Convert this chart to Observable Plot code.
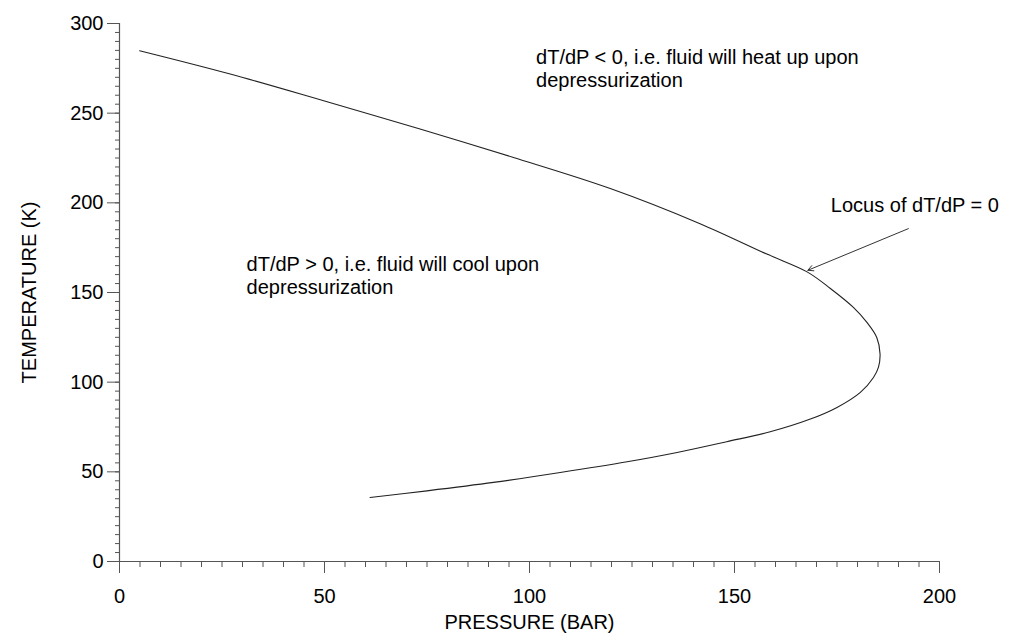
<!DOCTYPE html>
<html>
<head>
<meta charset="utf-8">
<script src="https://cdn.jsdelivr.net/npm/d3@7"></script>
<script src="https://cdn.jsdelivr.net/npm/@observablehq/plot@0.6"></script>
<style>
  html, body { margin: 0; padding: 0; background: #fff; }
</style>
</head>
<body>
<div id="chart"></div>
<script>
// Curve: locus of dT/dP = 0 (pressure in bar, temperature in K)
const pressure    = [4.9, 27.0, 49.8, 73.3, 96.1, 119.7, 141.6, 157.9, 167.7, 173.3, 179.0, 182.3, 184.7, 185.5, 185.1, 183.9, 180.7, 175.0, 168.5, 158.7, 148.1, 136.0, 123.8, 107.5, 91.2, 75.0, 61.1];
const temperature = [284.8, 271.8, 256.9, 241.2, 225.3, 208.0, 188.4, 171.4, 161.5, 152.4, 141.7, 133.3, 124.9, 115.7, 108.2, 102.6, 94.3, 85.9, 79.4, 72.3, 66.8, 60.8, 55.6, 49.6, 44.1, 39.4, 35.7];

// Axis ticks
const xTicks = [0, 50, 100, 150, 200];
const yTicks = [0, 50, 100, 150, 200, 250, 300];
const xMinorTicks = d3.range(0, 201, 5);
const yMinorTicks = d3.range(0, 301, 5);

// Annotations (baseline of the last line, in data coordinates)
const annText = [
  "dT/dP < 0, i.e. fluid will heat up upon\ndepressurization",
  "dT/dP > 0, i.e. fluid will cool upon\ndepressurization",
  "Locus of dT/dP = 0"
];
const annP = [101.6, 31.0, 173.5];
const annT = [264.5, 149.3, 195.0];

// Arrow pointing at the curve
const arrowP1 = [192.4];
const arrowT1 = [185.6];
const arrowP2 = [167.9];
const arrowT2 = [162.4];

const curve = pressure.map((p, i) => ({p, t: temperature[i]}));
const notes = annText.map((text, i) => ({text, p: annP[i], t: annT[i]}));
const arrows = arrowP1.map((p, i) => ({p1: p, t1: arrowT1[i], p2: arrowP2[i], t2: arrowT2[i]}));

const axisColor = "#555";
const font = "Arial, 'Liberation Sans', Helvetica, sans-serif";

const chart = Plot.plot({
  width: 1009,
  height: 633,
  marginLeft: 119,
  marginRight: 70,
  marginTop: 23,
  marginBottom: 72,
  style: {fontFamily: font, fontSize: "20px", color: "#000", background: "#fff", overflow: "visible"},
  x: {domain: [0, 200]},
  y: {domain: [0, 300]},
  marks: [
    Plot.axisX({ticks: xMinorTicks, tickSize: 6, tickFormat: () => "", label: null, stroke: axisColor}),
    Plot.axisX({ticks: xTicks, tickSize: 12, tickPadding: 15, stroke: axisColor, fontSize: 20,
      label: "PRESSURE (BAR)", labelAnchor: "center", labelArrow: "none", labelOffset: 67}),
    Plot.axisY({ticks: yMinorTicks, tickSize: 4, tickFormat: () => "", label: null, stroke: axisColor}),
    Plot.axisY({ticks: yTicks, tickSize: 12, tickPadding: 4, stroke: axisColor, fontSize: 20,
      label: "TEMPERATURE (K)", labelAnchor: "center", labelArrow: "none", labelOffset: 98}),
    Plot.ruleX([0], {stroke: axisColor, strokeWidth: 1.2}),
    Plot.ruleY([0], {stroke: axisColor, strokeWidth: 1.2}),
    Plot.line(curve, {x: "p", y: "t", curve: "catmull-rom", stroke: "#222", strokeWidth: 1.1}),
    Plot.text(notes, {x: "p", y: "t", text: "text", textAnchor: "start", lineAnchor: "bottom",
      lineHeight: 1.14, fontSize: 20, fill: "#000"}),
    Plot.arrow(arrows, {x1: "p1", y1: "t1", x2: "p2", y2: "t2", stroke: "#333", strokeWidth: 1,
      headLength: 9, headAngle: 55})
  ]
});

document.getElementById("chart").appendChild(chart);
</script>
</body>
</html>
